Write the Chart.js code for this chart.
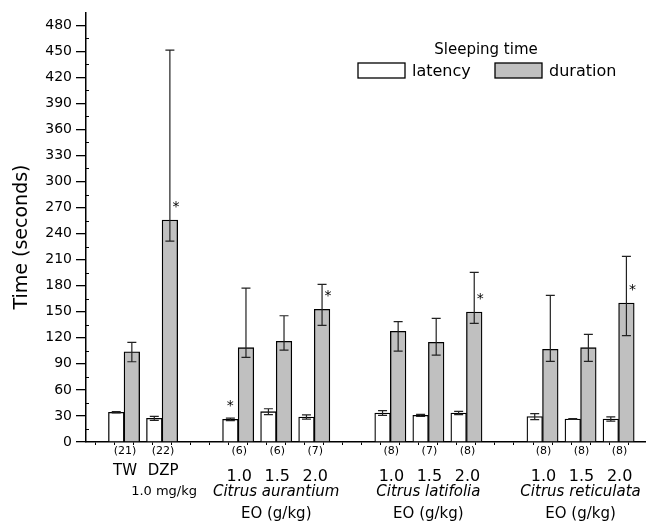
<!DOCTYPE html>
<html>
<head>
<meta charset="utf-8">
<script src="https://cdn.jsdelivr.net/npm/chart.js@4"></script>
<style>
  html, body { margin: 0; padding: 0; background: #fff; }
</style>
</head>
<body>
<canvas id="sleepChart" width="646" height="521"></canvas>
<script>
// slot positions on the x axis (gaps between the groups)
const slots = [1, 2, 4, 5, 6, 8, 9, 10, 12, 13, 14];
const nLabels = ["(21)", "(22)", "(6)", "(6)", "(7)", "(8)", "(7)", "(8)", "(8)", "(8)", "(8)"];
const doseLabels = ["TW", "DZP", "1.0", "1.5", "2.0", "1.0", "1.5", "2.0", "1.0", "1.5", "2.0"];

const latency = [34.2, 27.3, 26.1, 34.9, 28.8, 33.4, 30.7, 33.4, 29.2, 26.5, 26.5];
const latencyErr = [0.8, 2.3, 1.5, 3.4, 2.4, 2.8, 1.2, 1.8, 3.5, 0.5, 2.5];
const duration = [103.9, 255.5, 108.6, 115.9, 152.7, 127.4, 114.8, 149.6, 106.7, 108.6, 160.0];
const durationErrUp = [10.8, 195.7, 68.7, 29.5, 28.8, 11.1, 27.6, 45.7, 62.1, 15.4, 53.7];
const durationErrDown = [11.5, 24.1, 11.1, 10.0, 18.4, 22.7, 14.7, 13.0, 13.8, 15.7, 37.6];
const latencyStar = [false, false, true, false, false, false, false, false, false, false, false];
const durationStar = [false, true, false, false, true, false, false, true, false, false, true];

const groupNames = ["Citrus aurantium", "Citrus latifolia", "Citrus reticulata"];
const groupSlots = [5, 9, 13];

const FONT = "'DejaVu Sans', 'Liberation Sans', Arial, sans-serif";

const drawExtras = {
  id: "drawExtras",
  afterDatasetsDraw(chart) {
    const ctx = chart.ctx;
    const y = chart.scales.y;
    const sets = [
      { meta: chart.getDatasetMeta(0), vals: latency, up: latencyErr, down: latencyErr, star: latencyStar, dx: 0 },
      { meta: chart.getDatasetMeta(1), vals: duration, up: durationErrUp, down: durationErrDown, star: durationStar, dx: 6 }
    ];
    ctx.save();
    ctx.strokeStyle = "#222";
    ctx.lineWidth = 1.2;
    sets.forEach(s => {
      s.meta.data.forEach((bar, i) => {
        const yTop = y.getPixelForValue(s.vals[i] + s.up[i]);
        const yBot = y.getPixelForValue(s.vals[i] - s.down[i]);
        ctx.beginPath();
        ctx.moveTo(bar.x, yTop); ctx.lineTo(bar.x, yBot);
        ctx.moveTo(bar.x - 4.5, yTop); ctx.lineTo(bar.x + 4.5, yTop);
        ctx.moveTo(bar.x - 4.5, yBot); ctx.lineTo(bar.x + 4.5, yBot);
        ctx.stroke();
        if (s.star[i]) {
          ctx.fillStyle = "#000";
          ctx.font = "14px " + FONT;
          ctx.textAlign = "center";
          ctx.textBaseline = "alphabetic";
          ctx.fillText("*", bar.x + s.dx, y.getPixelForValue(s.vals[i]) - 9);
        }
      });
    });

    // minor ticks on the y axis (inward)
    const area = chart.chartArea;
    ctx.strokeStyle = "#000";
    ctx.lineWidth = 1;
    for (let v = 15; v < y.max; v += 30) {
      const py = Math.round(y.getPixelForValue(v)) + 0.5;
      ctx.beginPath();
      ctx.moveTo(area.left, py);
      ctx.lineTo(area.left + 3, py);
      ctx.stroke();
    }
    ctx.restore();
  },
  afterDraw(chart) {
    const ctx = chart.ctx;
    const x = chart.scales.x;
    const area = chart.chartArea;
    const b = area.bottom;
    ctx.save();
    ctx.fillStyle = "#000";
    ctx.textAlign = "center";
    ctx.textBaseline = "alphabetic";

    slots.forEach((s, i) => {
      const px = x.getPixelForValue(s) + 1;
      ctx.font = "11px " + FONT;
      ctx.fillText(nLabels[i], px, b + 12);
      if (i < 2) {
        ctx.font = "15px " + FONT;
        ctx.fillText(doseLabels[i], px, b + 33);
      } else {
        ctx.font = "16px " + FONT;
        ctx.fillText(doseLabels[i], px, b + 39);
      }
    });
    ctx.font = "13px " + FONT;
    ctx.fillText("1.0 mg/kg", x.getPixelForValue(slots[1]) + 2, b + 53);

    groupSlots.forEach((g, i) => {
      const px = x.getPixelForValue(g);
      ctx.font = "italic 15px " + FONT;
      ctx.fillText(groupNames[i], px, b + 54);
      ctx.font = "15px " + FONT;
      ctx.fillText("EO (g/kg)", px, b + 76);
    });

    // y axis title
    ctx.save();
    ctx.translate(22, 237);
    ctx.rotate(-Math.PI / 2);
    ctx.font = "19px " + FONT;
    ctx.textBaseline = "middle";
    ctx.fillText("Time (seconds)", 0, 0);
    ctx.restore();

    // legend
    ctx.font = "15px " + FONT;
    ctx.fillText("Sleeping time", 486, 54);
    const boxes = [
      { label: "latency", fill: "#ffffff", bx: 358, tx: 412 },
      { label: "duration", fill: "#c0c0c0", bx: 495, tx: 549 }
    ];
    ctx.textAlign = "left";
    ctx.font = "16px " + FONT;
    boxes.forEach(bx => {
      ctx.fillStyle = bx.fill;
      ctx.fillRect(bx.bx, 63, 47, 15);
      ctx.strokeStyle = "#000";
      ctx.lineWidth = 1.3;
      ctx.strokeRect(bx.bx, 63, 47, 15);
      ctx.fillStyle = "#000";
      ctx.fillText(bx.label, bx.tx, 76);
    });
    ctx.restore();
  }
};

const ctx = document.getElementById("sleepChart").getContext("2d");

const sleepChart = new Chart(ctx, {
  type: "bar",
  data: {
    datasets: [
      {
        label: "latency",
        data: slots.map((s, i) => ({ x: s, y: latency[i] })),
        backgroundColor: "#ffffff",
        borderColor: "#000",
        borderWidth: 1.3,
        barThickness: 15.6
      },
      {
        label: "duration",
        data: slots.map((s, i) => ({ x: s, y: duration[i] })),
        backgroundColor: "#c0c0c0",
        borderColor: "#000",
        borderWidth: 1.3,
        barThickness: 15.6
      }
    ]
  },
  options: {
    responsive: false,
    animation: false,
    layout: { padding: { top: 13, right: 0, left: 0, bottom: 0 } },
    plugins: {
      legend: { display: false },
      tooltip: { enabled: false }
    },
    scales: {
      x: {
        type: "linear",
        min: 0,
        max: 14.72,
        offset: false,
        grid: { drawOnChartArea: false, drawTicks: true, tickLength: 3, color: "#000", lineWidth: 1 },
        border: { display: true, color: "#000", width: 1.5 },
        ticks: { display: false, stepSize: 0.5, includeBounds: false },
        afterFit: scale => { scale.height = 79; }
      },
      y: {
        min: 0,
        max: 494,
        grid: { drawOnChartArea: false, drawTicks: true, tickLength: 10, color: "#000", lineWidth: 1.3 },
        border: { display: true, color: "#000", width: 1.5 },
        ticks: {
          stepSize: 30,
          includeBounds: false,
          padding: 4,
          color: "#000",
          font: { family: FONT, size: 14 }
        },
        afterFit: scale => { scale.width = 86; }
      }
    }
  },
  plugins: [drawExtras]
});
</script>
</body>
</html>
